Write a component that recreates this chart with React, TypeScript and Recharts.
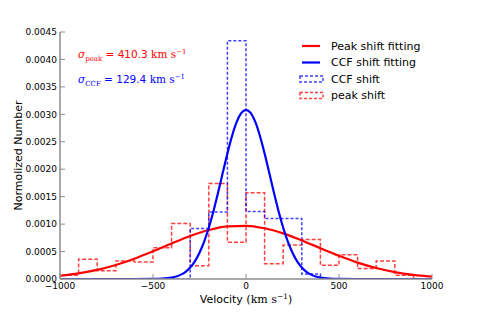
import { ComposedChart, Line, XAxis, YAxis, Legend, Customized } from 'recharts'

const VELOCITY_TICKS = [-1000, -500, 0, 500, 1000]
const NORM_TICKS = [0, 0.0005, 0.001, 0.0015, 0.002, 0.0025, 0.003, 0.0035, 0.004, 0.0045]

// histograms, 100 km/s bins: left edges and normalized heights
const BIN_WIDTH = 100
const PEAK_BIN_STARTS = [-1000, -900, -800, -700, -600, -500, -400, -300, -200, -100, 0, 100, 200, 300, 400, 500, 600, 700, 800]
const PEAK_HEIGHTS = [0.00007, 0.00036, 0.00015, 0.00033, 0.00031, 0.00057, 0.00101, 0.00024, 0.00174, 0.00067, 0.00157, 0.00028, 0.00062, 0.00072, 0.00025, 0.00044, 0.00019, 0.00033, 0.00007]
const CCF_BIN_STARTS = [-400, -300, -200, -100, 0, 100, 200, 300]
const CCF_HEIGHTS = [0, 0.00092, 0.00122, 0.00434, 0.00123, 0.0011, 0.0011, 0.00009]

// fitted curves
const PEAK_FIT_V = [-1000, -900, -800, -700, -600, -500, -400, -300, -200, -100, 0, 100, 200, 300, 400, 500, 600, 700, 800, 900, 1000]
const PEAK_FIT_N = [0.000059, 0.000103, 0.000167, 0.000256, 0.00037, 0.000504, 0.000647, 0.000783, 0.000892, 0.000958, 0.000969, 0.000924, 0.000831, 0.000703, 0.000561, 0.000422, 0.000299, 0.0002, 0.000126, 0.0000745, 0.0000416]
const CCF_FIT_V = [-1000, -600, -500, -450, -400, -375, -350, -325, -300, -275, -250, -225, -200, -175, -150, -125, -100, -75, -50, -25, 0, 25, 50, 75, 100, 125, 150, 175, 200, 225, 250, 275, 300, 325, 350, 375, 400, 450, 500, 600, 1000]
const CCF_FIT_N = [0, 0, 0.0000018, 0.0000073, 0.000026, 0.000046, 0.00008, 0.000132, 0.00021, 0.000322, 0.000477, 0.00068, 0.000934, 0.001235, 0.001575, 0.001934, 0.002287, 0.002606, 0.002861, 0.003026, 0.003083, 0.003026, 0.002861, 0.002606, 0.002287, 0.001934, 0.001575, 0.001235, 0.000934, 0.00068, 0.000477, 0.000322, 0.00021, 0.000132, 0.00008, 0.000046, 0.000026, 0.0000073, 0.0000018, 0, 0]

const RED = '#ff0000'
const BLUE = '#0000ff'
const SPINE = '#8c8c8c'
const SANS = '"DejaVu Sans", sans-serif'
const SERIF = '"DejaVu Serif", serif'

const PLOT_LEFT = 60
const PLOT_RIGHT = 432
const PLOT_TOP = 32
const PLOT_BOTTOM = 279
const TICK_LEN = 5

function stepOutline(starts: number[], heights: number[]) {
  const pts = [{ v: starts[0], n: 0 }]
  starts.forEach((s, i) => pts.push({ v: s, n: heights[i] }))
  const end = starts[starts.length - 1] + BIN_WIDTH
  pts.push({ v: end, n: heights[heights.length - 1] })
  pts.push({ v: end, n: 0 })
  return pts
}

const peakHist = stepOutline(PEAK_BIN_STARTS, PEAK_HEIGHTS)
const ccfHist = stepOutline(CCF_BIN_STARTS, CCF_HEIGHTS)
const peakFit = PEAK_FIT_V.map((v, i) => ({ v, n: PEAK_FIT_N[i] }))
const ccfFit = CCF_FIT_V.map((v, i) => ({ v, n: CCF_FIT_N[i] }))

const fmtVel = (v: number) => (v < 0 ? '\u2212' + Math.abs(v) : String(v))

function BottomTick({ x, payload }: any) {
  return (
    <g>
      <line x1={x} x2={x} y1={PLOT_BOTTOM} y2={PLOT_BOTTOM - TICK_LEN} stroke={SPINE} />
      <text x={x} y={PLOT_BOTTOM + 3} dy="0.76em" textAnchor="middle" fontSize={9} fontFamily={SANS} fill="#000">
        {fmtVel(payload.value)}
      </text>
    </g>
  )
}

function TopTick({ x }: any) {
  return <line x1={x} x2={x} y1={PLOT_TOP} y2={PLOT_TOP + TICK_LEN} stroke={SPINE} />
}

function LeftTick({ y, payload }: any) {
  return (
    <g>
      <line x1={PLOT_LEFT} x2={PLOT_LEFT + TICK_LEN} y1={y} y2={y} stroke={SPINE} />
      <text x={PLOT_LEFT - 3} y={y} dy="0.36em" textAnchor="end" fontSize={9} fontFamily={SANS} fill="#000">
        {payload.value.toFixed(4)}
      </text>
    </g>
  )
}

function RightTick({ y }: any) {
  return <line x1={PLOT_RIGHT} x2={PLOT_RIGHT - TICK_LEN} y1={y} y2={y} stroke={SPINE} />
}

function Sigma({ x, y, sub, value, color }: { x: number; y: number; sub: string; value: string; color: string }) {
  return (
    <text x={x} y={y} fill={color} fontSize={10.5} fontFamily={SANS}>
      <tspan fontFamily={SERIF} fontStyle="italic">σ</tspan>
      <tspan fontFamily={SERIF} fontSize={7} dy={2.5}>{sub}</tspan>
      <tspan dy={-2.5}>{` = ${value} `}</tspan>
      <tspan fontFamily={SERIF}>km s</tspan>
      <tspan fontFamily={SERIF} fontSize={7} dy={-4}>{'\u22121'}</tspan>
    </text>
  )
}

function Annotations() {
  return (
    <g>
      <Sigma x={78} y={58} sub="peak" value="410.3" color={RED} />
      <Sigma x={78} y={83} sub="CCF" value="129.4" color={BLUE} />
      <text x={246} y={303} textAnchor="middle" fontSize={11} fontFamily={SANS} fill="#000">
        <tspan>Velocity (</tspan>
        <tspan fontFamily={SERIF}>km s</tspan>
        <tspan fontFamily={SERIF} fontSize={7.5} dy={-4.5}>{'\u22121'}</tspan>
        <tspan dy={4.5}>)</tspan>
      </text>
      <text
        x={18}
        y={(PLOT_TOP + PLOT_BOTTOM) / 2}
        transform={`rotate(-90 18 ${(PLOT_TOP + PLOT_BOTTOM) / 2})`}
        textAnchor="middle"
        dy="0.36em"
        fontSize={11}
        fontFamily={SANS}
        fill="#000"
      >
        Normolized Number
      </text>
    </g>
  )
}

const LEGEND_ITEMS = [
  { label: 'Peak shift fitting', color: RED, dashed: false },
  { label: 'CCF shift fitting', color: BLUE, dashed: false },
  { label: 'CCF shift', color: BLUE, dashed: true },
  { label: 'peak shift', color: RED, dashed: true },
]

function LegendBox() {
  return (
    <svg width={150} height={72} style={{ display: 'block' }}>
      {LEGEND_ITEMS.map((item, i) => {
        const cy = 10 + i * 16.5
        return (
          <g key={item.label}>
            {item.dashed ? (
              <rect x={4} y={cy - 3} width={23} height={6} fill="none" stroke={item.color} strokeOpacity={0.75} strokeWidth={1.5} strokeDasharray="3 2" />
            ) : (
              <line x1={6} x2={24} y1={cy} y2={cy} stroke={item.color} strokeWidth={2.2} />
            )}
            <text x={35} y={cy} dy="0.36em" fontSize={11} fontFamily={SANS} fill="#000">
              {item.label}
            </text>
          </g>
        )
      })}
    </svg>
  )
}

export default function App() {
  return (
    <div style={{ position: 'absolute', left: 0, top: 0, background: '#fff' }}>
      <ComposedChart width={480} height={320} margin={{ top: PLOT_TOP, right: 480 - PLOT_RIGHT, left: 0, bottom: 320 - PLOT_BOTTOM - 24 }}>
        <XAxis
          type="number"
          dataKey="v"
          domain={[-1000, 1000]}
          ticks={VELOCITY_TICKS}
          interval={0}
          allowDataOverflow
          height={24}
          tickLine={false}
          tick={(p: any) => <BottomTick {...p} />}
          axisLine={{ stroke: SPINE, strokeWidth: 1.5 }}
        />
        <XAxis
          xAxisId="top"
          orientation="top"
          type="number"
          dataKey="v"
          domain={[-1000, 1000]}
          ticks={VELOCITY_TICKS}
          interval={0}
          height={0}
          tickLine={false}
          tick={(p: any) => <TopTick {...p} />}
          axisLine={{ stroke: SPINE, strokeWidth: 1.5 }}
        />
        <YAxis
          type="number"
          domain={[0, 0.0045]}
          ticks={NORM_TICKS}
          interval={0}
          allowDataOverflow
          width={PLOT_LEFT}
          tickLine={false}
          tick={(p: any) => <LeftTick {...p} />}
          axisLine={{ stroke: SPINE, strokeWidth: 1.5 }}
        />
        <YAxis
          yAxisId="right"
          orientation="right"
          type="number"
          domain={[0, 0.0045]}
          ticks={NORM_TICKS}
          interval={0}
          width={0}
          tickLine={false}
          tick={(p: any) => <RightTick {...p} />}
          axisLine={{ stroke: SPINE, strokeWidth: 1.5 }}
        />
        <Line data={peakHist} dataKey="n" type="stepAfter" stroke={RED} strokeOpacity={0.75} strokeWidth={1.5} strokeDasharray="4 2" dot={false} activeDot={false} isAnimationActive={false} />
        <Line data={ccfHist} dataKey="n" type="stepAfter" stroke={BLUE} strokeOpacity={0.75} strokeWidth={1.5} strokeDasharray="3 2" dot={false} activeDot={false} isAnimationActive={false} />
        <Line data={peakFit} dataKey="n" type="monotone" stroke={RED} strokeWidth={2.2} dot={false} activeDot={false} isAnimationActive={false} />
        <Line data={ccfFit} dataKey="n" type="monotone" stroke={BLUE} strokeWidth={2.2} dot={false} activeDot={false} isAnimationActive={false} />
        <Customized component={<Annotations />} />
        <Legend
          layout="vertical"
          align="center"
          verticalAlign="middle"
          wrapperStyle={{ left: 296, top: 36, width: 150, height: 72 }}
          content={() => <LegendBox />}
        />
      </ComposedChart>
    </div>
  )
}
